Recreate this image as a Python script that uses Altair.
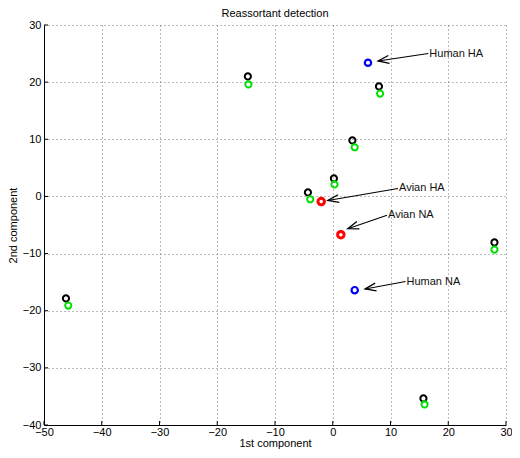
import altair as alt
import pandas as pd
import numpy as np

# ---- data ----
black_x = [-14.7, 8.0, 3.4, 0.2, -4.3, 28.0, -46.2, 15.7]
black_y = [21.0, 19.25, 9.8, 3.15, 0.7, -8.05, -17.85, -35.35]
green_x = [-14.6, 8.2, 3.8, 0.3, -3.9, 28.0, -45.8, 15.9]
green_y = [19.6, 18.0, 8.6, 2.1, -0.5, -9.3, -19.1, -36.4]
blue_x = [6.1, 3.8]
blue_y = [23.4, -16.4]
red_x = [-2.0, 1.4]
red_y = [-0.9, -6.7]

ann_label = ["Human HA", "Avian HA", "Avian NA", "Human NA"]
ann_text_x = [16.55, 11.3, 9.4, 12.6]
ann_text_y = [25.0, 1.4, -3.3, -14.9]
ann_tip_x = [7.85, -0.85, 2.6, 5.6]
ann_tip_y = [23.7, -0.7, -5.65, -16.2]

x_ticks = [-50, -40, -30, -20, -10, 0, 10, 20, 30]
y_ticks = [-40, -30, -20, -10, 0, 10, 20, 30]

title_text = ["Reassortant detection"]

W, H = 462, 400
XMIN, XMAX = -50, 30
YMIN, YMAX = -40, 30
FONT = "Liberation Sans"

sx = W / (XMAX - XMIN)
sy = H / (YMAX - YMIN)

ann = pd.DataFrame({
    "label": ann_label,
    "tx": ann_text_x, "ty": ann_text_y,
    "hx": ann_tip_x, "hy": ann_tip_y,
})
ang = np.degrees(np.arctan2(-(ann["hy"] - ann["ty"]) * sy, (ann["hx"] - ann["tx"]) * sx))
ann["angle"] = np.mod(ang, 360)

xs = alt.Scale(domain=[XMIN, XMAX], nice=False, zero=False)
ys = alt.Scale(domain=[YMIN, YMAX], nice=False, zero=False)

xax = alt.Axis(values=x_ticks, format="d", grid=True, ticks=False, tickSize=0,
               labelFlush=False, domainColor="black", labelPadding=1,
               title="1st component", titlePadding=0)
yax = alt.Axis(values=y_ticks, format="d", grid=True, ticks=False, tickSize=0,
               labelFlush=False, domainColor="black", labelPadding=3,
               title="2nd  component", titlePadding=4)


def pts(xv, yv, color, sw, size):
    df = pd.DataFrame({"x": xv, "y": yv})
    return alt.Chart(df).mark_point(filled=False, color=color, strokeWidth=sw,
                                    size=size, opacity=1).encode(
        x=alt.X("x:Q", scale=xs, axis=xax),
        y=alt.Y("y:Q", scale=ys, axis=yax),
    )


black = pts(black_x, black_y, "black", 2, 38)
green = pts(green_x, green_y, "#00e000", 2, 38)
blue = pts(blue_x, blue_y, "#0000ff", 2.2, 40)
red = pts(red_x, red_y, "#ff0000", 3, 42)

xt = alt.Chart(pd.DataFrame({"v": x_ticks})).mark_rule(color="black", strokeWidth=1).encode(
    x=alt.X("v:Q", scale=xs), y=alt.value(H), y2=alt.value(H - 4))
yt = alt.Chart(pd.DataFrame({"v": y_ticks})).mark_rule(color="black", strokeWidth=1).encode(
    y=alt.Y("v:Q", scale=ys), x=alt.value(0), x2=alt.value(4))

lines = alt.Chart(ann).mark_rule(color="black", strokeWidth=1.1).encode(
    x=alt.X("tx:Q", scale=xs), y=alt.Y("ty:Q", scale=ys),
    x2="hx:Q", y2="hy:Q")
heads = alt.Chart(ann).mark_point(
    shape="M-1,-0.36L0,0L-1,0.36", filled=False, color="black",
    strokeWidth=1.3, size=480, opacity=1).encode(
    x=alt.X("hx:Q", scale=xs), y=alt.Y("hy:Q", scale=ys),
    angle=alt.Angle("angle:Q", scale=None))
texts = alt.Chart(ann).mark_text(align="left", baseline="middle", dx=1,
                                 fontSize=11, font=FONT, color="#111").encode(
    x=alt.X("tx:Q", scale=xs), y=alt.Y("ty:Q", scale=ys), text="label:N")

title = alt.Chart(pd.DataFrame({"t": title_text})).mark_text(
    align="center", baseline="alphabetic", fontSize=11, font=FONT, color="black").encode(
    x=alt.value(W / 2), y=alt.value(-8), text="t:N")

chart = alt.layer(black, green, blue, red, lines, heads, texts, xt, yt, title).properties(
    width=W, height=H,
    autosize=alt.AutoSizeParams(type="none"),
    padding={"left": 36, "top": 17, "right": 6, "bottom": 26},
).configure_view(stroke=None).configure_axis(
    labelFont=FONT, titleFont=FONT, labelFontSize=11, titleFontSize=11,
    titleFontWeight="normal", labelColor="black", titleColor="black",
    gridColor="#777", gridDash=[1, 3], gridWidth=1, domainWidth=1,
)

chart.save("out.html", embed_options={"renderer": "svg", "actions": False})
